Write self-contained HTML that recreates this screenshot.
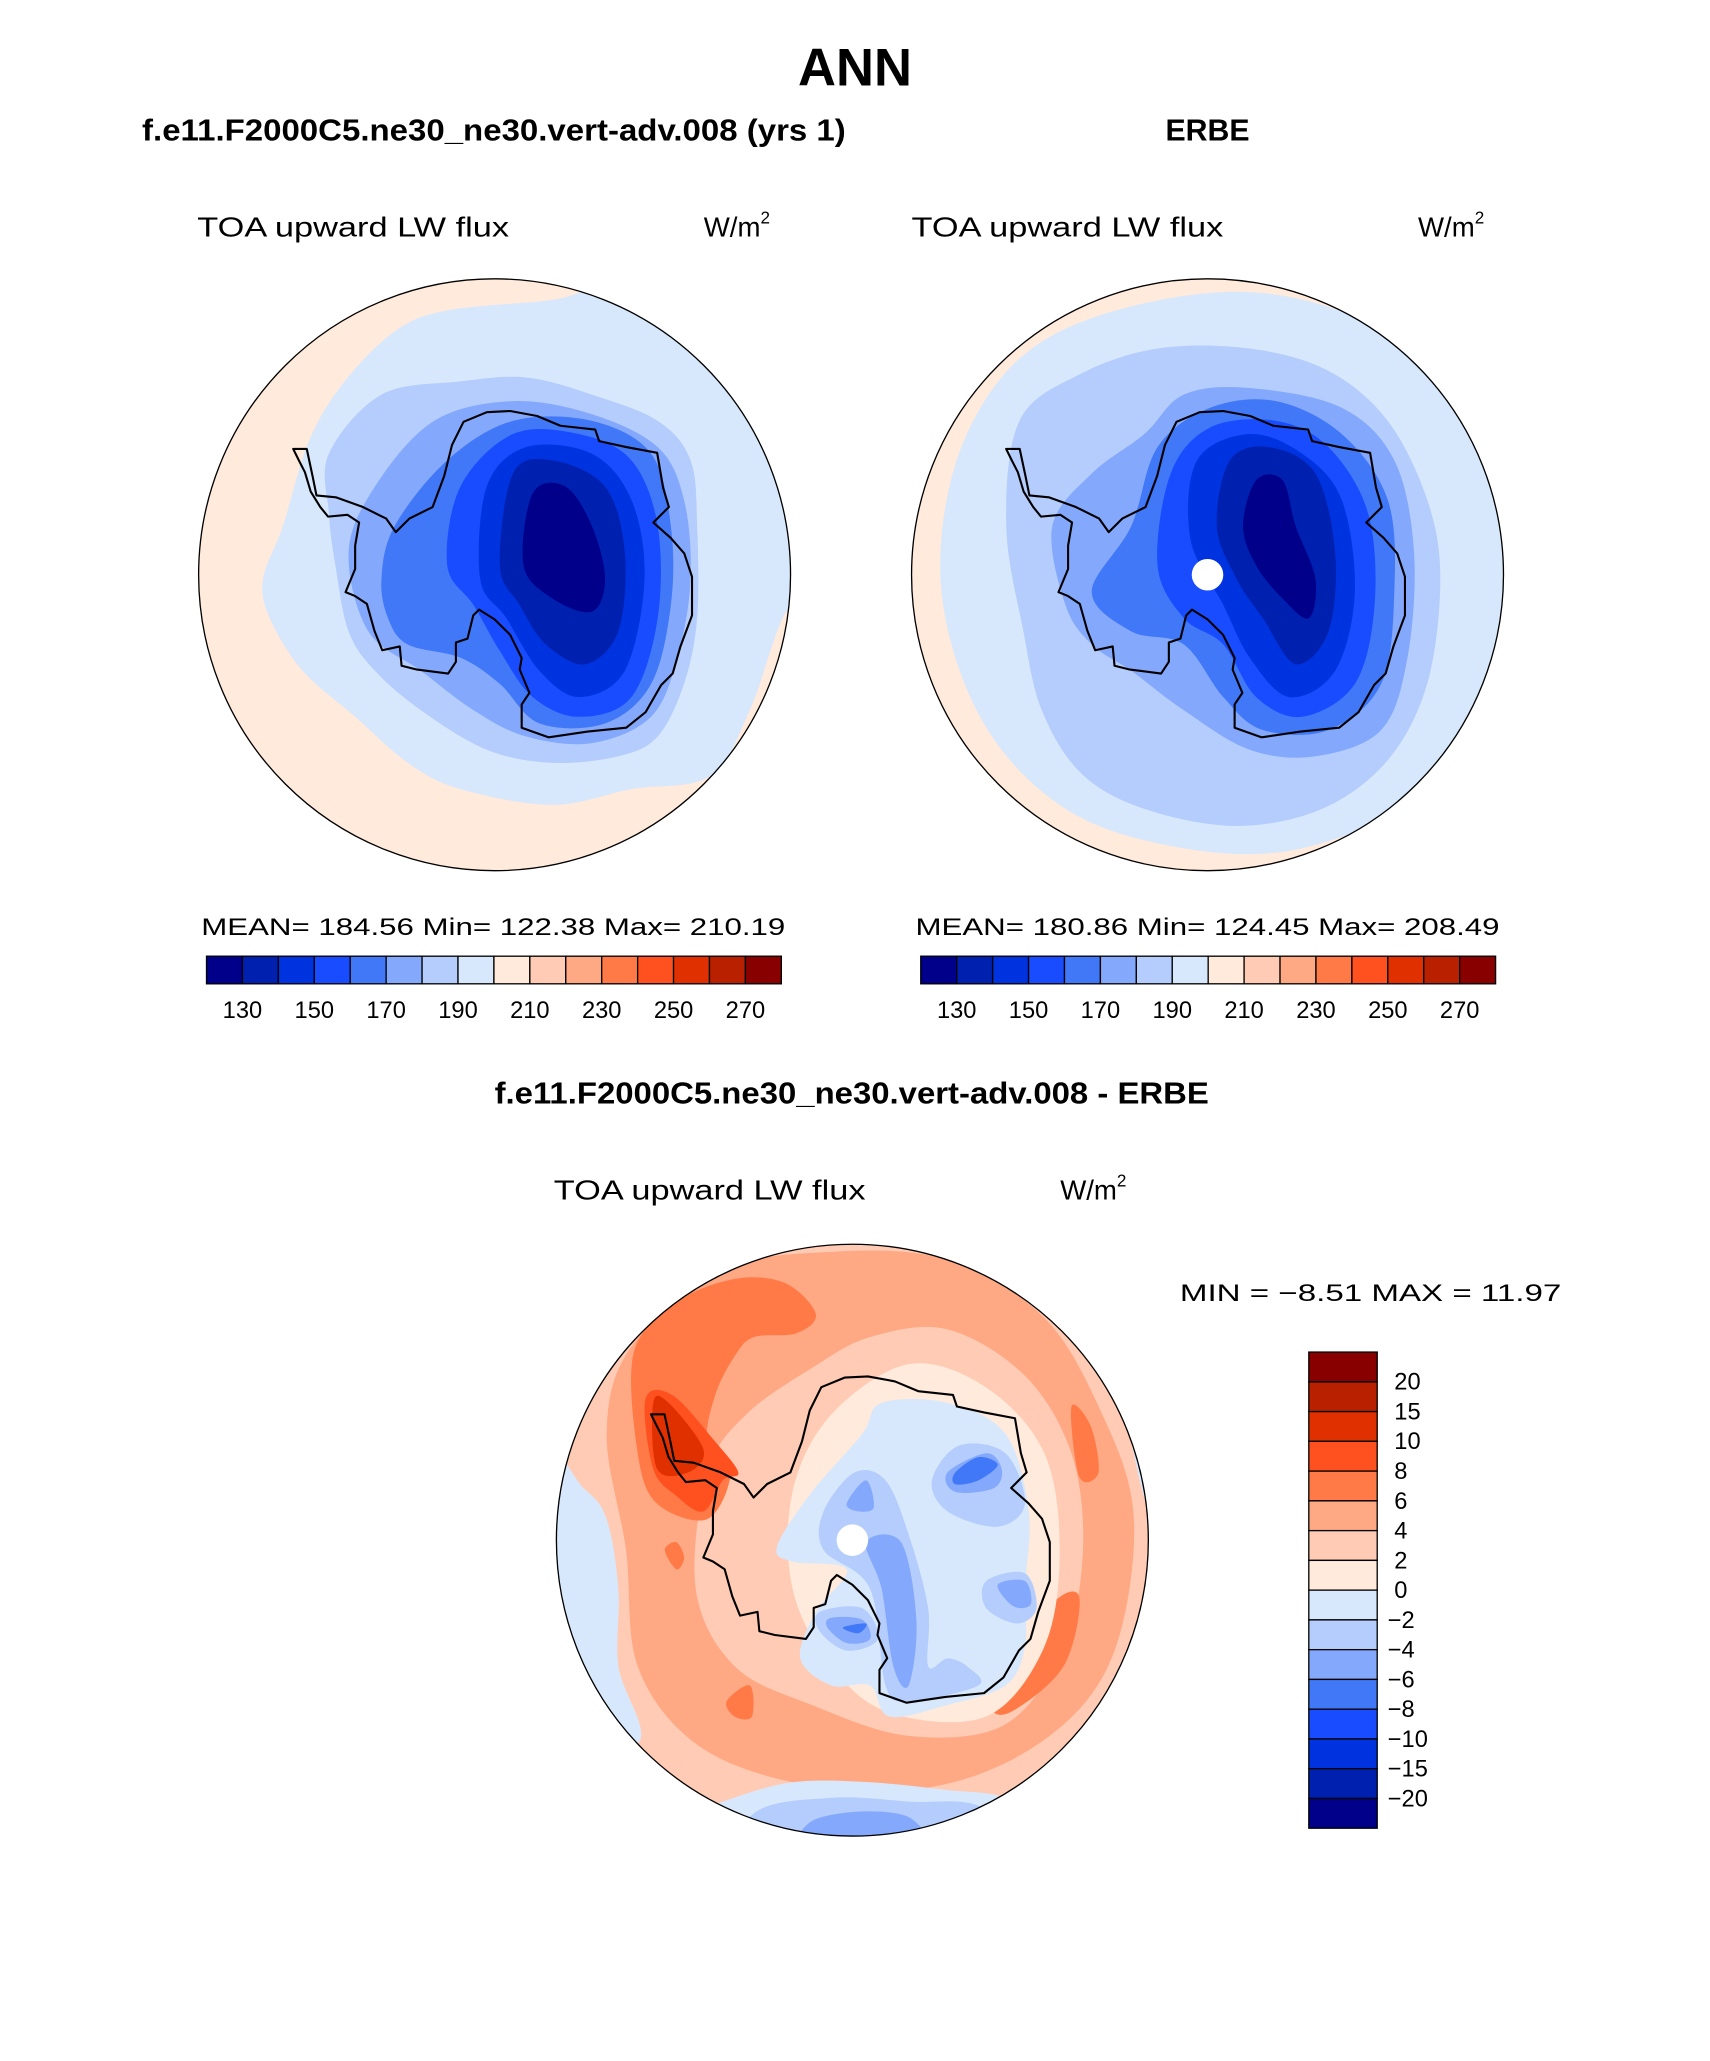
<!DOCTYPE html>
<html><head><meta charset="utf-8"><style>
html,body{margin:0;padding:0;background:#fff;}
svg{display:block;}
text{font-family:"Liberation Sans",sans-serif;fill:#000;}
</style></head><body>
<svg id="fig" width="1710" height="2061" viewBox="0 0 1300 1567" preserveAspectRatio="none" xmlns="http://www.w3.org/2000/svg">
<rect width="1300" height="1567" fill="#fff"/>
<defs>
<clipPath id="c1"><circle cx="376" cy="437" r="225"/></clipPath>
<clipPath id="c2"><circle cx="918" cy="437" r="225"/></clipPath>
<clipPath id="c3"><circle cx="648" cy="1171" r="225"/></clipPath>
</defs>
<text x="650" y="65" font-size="40" font-weight="bold" text-anchor="middle">ANN</text>
<text x="108" y="107" font-size="23" font-weight="bold" textLength="535" lengthAdjust="spacingAndGlyphs">f.e11.F2000C5.ne30_ne30.vert-adv.008 (yrs 1)</text>
<text x="918" y="107" font-size="23" font-weight="bold" text-anchor="middle">ERBE</text>
<text x="376" y="839" font-size="23" font-weight="bold" textLength="543" lengthAdjust="spacingAndGlyphs">f.e11.F2000C5.ne30_ne30.vert-adv.008 - ERBE</text>

<text x="150" y="180" font-size="21" textLength="237" lengthAdjust="spacingAndGlyphs">TOA upward LW flux</text>
<text x="535" y="180" font-size="21">W/m<tspan font-size="13" dy="-10">2</tspan></text>
<text x="693" y="180" font-size="21" textLength="237" lengthAdjust="spacingAndGlyphs">TOA upward LW flux</text>
<text x="1078" y="180" font-size="21">W/m<tspan font-size="13" dy="-10">2</tspan></text>
<text x="421" y="912" font-size="21" textLength="237" lengthAdjust="spacingAndGlyphs">TOA upward LW flux</text>
<text x="806" y="912" font-size="21">W/m<tspan font-size="13" dy="-10">2</tspan></text>

<text x="153" y="711" font-size="18" textLength="444" lengthAdjust="spacingAndGlyphs">MEAN=  184.56   Min=  122.38   Max=  210.19</text>
<text x="696" y="711" font-size="18" textLength="444" lengthAdjust="spacingAndGlyphs">MEAN=  180.86   Min=  124.45   Max=  208.49</text>
<text x="897" y="989" font-size="18" textLength="290" lengthAdjust="spacingAndGlyphs">MIN  =   −8.51  MAX  =    11.97</text>

<g id="map1" clip-path="url(#c1)"></g>
<g id="map2" clip-path="url(#c2)"></g>
<g id="map3" clip-path="url(#c3)"></g>
<circle cx="376" cy="437" r="225" fill="none" stroke="#000" stroke-width="1"/>
<circle cx="918" cy="437" r="225" fill="none" stroke="#000" stroke-width="1"/>
<circle cx="648" cy="1171" r="225" fill="none" stroke="#000" stroke-width="1"/>
<g id="cb1"></g>
<g id="cb2"></g>
<g id="cb3"></g>
</svg>
<script>
const absColors=["#00008b","#0021b0","#0033e0","#1a4cff","#4078f8","#84a8fc","#b4cdfc","#d8e8fc","#ffeadb","#ffcbb4","#ffa884","#ff7a46","#ff5020","#e03000","#b82000","#880000"];
const absTicks=["130","150","170","190","210","230","250","270"];
const diffTicks=["20","15","10","8","6","4","2","0","−2","−4","−6","−8","−10","−15","−20"];
const NS="http://www.w3.org/2000/svg";
function mk(tag,attrs,parent){const e=document.createElementNS(NS,tag);for(const k in attrs)e.setAttribute(k,attrs[k]);parent.appendChild(e);return e;}
function smooth(pts){let d="";const n=pts.length;for(let i=0;i<n;i++){const p0=pts[(i-1+n)%n],p1=pts[i],p2=pts[(i+1)%n],p3=pts[(i+2)%n];if(i===0)d+="M"+p1[0]+","+p1[1];const c1=[p1[0]+(p2[0]-p0[0])/6,p1[1]+(p2[1]-p0[1])/6],c2=[p2[0]-(p3[0]-p1[0])/6,p2[1]-(p3[1]-p1[1])/6];d+="C"+c1[0].toFixed(1)+","+c1[1].toFixed(1)+" "+c2[0].toFixed(1)+","+c2[1].toFixed(1)+" "+p2[0]+","+p2[1];}return d+"Z";}
function blob(g,pts,fill,name){const p=mk("path",{d:smooth(pts),fill:fill},g);}
function hbar(id,x0){const g=document.getElementById(id);const w=437/16;
absColors.forEach((c,i)=>{const r=mk("rect",{x:x0+i*w,y:727,width:w,height:21,fill:c,stroke:"#000","stroke-width":1},g);});
absTicks.forEach((t,i)=>{const tx=mk("text",{x:x0+(2*i+1)*w,y:774,"font-size":18,"text-anchor":"middle"},g);tx.textContent=t;});}
hbar("cb1",157);hbar("cb2",700);
(function(){const g=document.getElementById("cb3");const h=362/16;
absColors.slice().reverse().forEach((c,i)=>{const r=mk("rect",{x:995,y:1028+i*h,width:52,height:h,fill:c,stroke:"#000","stroke-width":1},g);});
diffTicks.forEach((t,i)=>{const tx=mk("text",{x:t.startsWith("−")?1055:1060,y:1028+(i+1)*h+6,"font-size":18},g);tx.textContent=t;});})();
const C=absColors;
(function(){const g=document.getElementById("map1");
mk("rect",{x:140,y:200,width:480,height:480,fill:C[8]},g);
blob(g,[[470,218],[560,240],[620,300],[625,420],[595,470],[570,540],[540,590],[480,600],[420,612],[350,600],[310,580],[270,545],[230,510],[205,470],[200,440],[215,400],[235,335],[262,290],[300,252],[340,236],[420,228]],C[7],"light-blue-region");
blob(g,[[250,345],[290,300],[350,290],[400,287],[450,300],[500,320],[525,350],[530,400],[530,470],[520,520],[500,560],[470,575],[420,580],[370,570],[320,540],[285,510],[265,480],[255,430],[250,390]],C[6],"level-190");
blob(g,[[265,420],[285,370],[330,320],[390,305],[450,315],[500,340],[520,380],[525,440],[515,500],[495,545],[450,565],[400,560],[360,540],[320,510],[280,480]],C[5],"level-180");
blob(g,[[290,440],[300,400],[340,350],[390,320],[450,320],[495,345],[510,400],[510,460],[495,520],[460,550],[410,550],[380,520],[350,500],[310,490],[295,470]],C[4],"level-170");
blob(g,[[340,430],[350,370],[390,330],[440,330],[480,350],[500,400],[500,470],[480,530],[440,545],[405,530],[380,495],[360,460]],C[3],"level-160");
blob(g,[[365,440],[370,370],[400,340],[450,345],[480,380],[490,440],[475,510],[440,530],[410,510],[385,470]],C[2],"level-150");
blob(g,[[380,430],[390,360],[420,350],[460,370],[475,420],[470,480],[445,505],[415,490],[395,460]],C[1],"level-140");
blob(g,[[398,430],[405,375],[430,370],[450,400],[460,440],[450,465],[420,455]],C[0],"level-130");
})();
(function(){const g=document.getElementById("map2");
mk("rect",{x:680,y:200,width:480,height:480,fill:C[8]},g);
blob(g,[[930,222],[1040,245],[1120,310],[1150,420],[1135,530],[1080,605],[990,645],[900,645],[810,615],[745,545],[715,440],[735,330],[800,255]],C[7],"light-blue-region");
blob(g,[[775,320],[820,285],[880,265],[950,265],[1010,282],[1055,320],[1085,380],[1095,440],[1085,520],[1055,578],[1005,615],[940,628],[870,615],[822,588],[792,540],[778,480],[765,400]],C[6],"level-190");
blob(g,[[800,400],[830,360],[870,330],[900,300],[950,295],[1020,310],[1060,350],[1075,420],[1070,500],[1050,555],[1000,575],[950,570],[900,540],[860,510],[830,490],[810,460]],C[5],"level-180");
blob(g,[[830,450],[860,400],[880,340],[920,310],[970,305],[1020,330],[1055,380],[1060,450],[1050,520],[1010,555],[960,555],[930,530],[900,490],[860,480]],C[4],"level-170");
blob(g,[[880,430],[890,360],[920,325],[970,320],[1010,340],[1040,390],[1045,460],[1030,520],[990,545],[955,530],[930,490],[900,470]],C[3],"level-160");
blob(g,[[905,410],[910,350],[950,330],[990,345],[1020,380],[1030,450],[1015,510],[980,530],[950,500],[930,460]],C[2],"level-150");
blob(g,[[925,400],[935,350],[965,340],[1000,360],[1015,420],[1010,480],[985,505],[960,470],[940,440]],C[1],"level-140");
blob(g,[[945,400],[955,365],[975,365],[985,400],[1000,440],[995,470],[975,455],[955,430]],C[0],"level-130");
})();
function Z(pts){return pts.map(p=>[+(425.9+p[0]/3.397).toFixed(1),+(943+p[1]/3.397).toFixed(1)]);}
(function(){const g=document.getElementById("map3");
mk("rect",{x:410,y:930,width:480,height:480,fill:C[9]},g);
blob(g,Z([[-60,560],[60,640],[120,720],[150,900],[150,1100],[200,1300],[-60,1300]]),C[7],"neg-region-west");
blob(g,Z([[1420,250],[1600,300],[1600,800],[1520,700],[1460,450]]),C[7],"neg-region-east");
blob(g,Z([[180,280],[400,80],[700,30],[1000,50],[1250,200],[1400,450],[1480,700],[1450,1000],[1350,1200],[1150,1350],[900,1420],[600,1400],[350,1300],[200,1100],[170,800],[120,500]]),C[10],"level-4-6");
blob(g,Z([[250,1520],[420,1450],[600,1400],[800,1400],[1000,1420],[1150,1440],[1280,1520],[1300,1700],[250,1700]]),C[7],"neg-region-south");
blob(g,Z([[440,1650],[500,1480],[700,1440],[900,1450],[1100,1470],[1220,1650]]),C[6],"level-m2-m4-south");
blob(g,Z([[620,1650],[650,1500],[900,1490],[950,1650]]),C[5],"level-m4-m6-south");
blob(g,Z([[350,900],[380,600],[480,450],[650,330],[800,250],[1000,230],[1200,350],[1320,550],[1350,800],[1300,1050],[1150,1250],[900,1280],[650,1200],[450,1100]]),C[9],"level-2-4");
blob(g,Z([[190,290],[300,160],[450,100],[580,110],[660,190],[610,240],[500,250],[450,300],[400,400],[380,520],[440,600],[380,720],[250,680],[200,550]]),C[11],"level-6-8-nw");
blob(g,Z([[220,410],[290,400],[400,520],[460,600],[420,620],[370,700],[300,660],[240,590]]),C[12],"level-8-10");
blob(g,Z([[240,420],[280,420],[370,540],[330,600],[250,590]]),C[13],"level-10-15");
blob(g,Z([[1320,430],[1370,480],[1390,600],[1340,610]]),C[11],"level-6-8-e");
blob(g,Z([[1120,1180],[1260,950],[1340,920],[1300,1100],[1160,1220]]),C[11],"level-6-8-se");
blob(g,Z([[430,1190],[490,1150],[495,1230],[450,1230]]),C[11],"level-6-8-s");
blob(g,Z([[270,800],[300,780],[320,820],[300,850]]),C[11],"level-6-8-w");
blob(g,Z([[600,650],[700,450],[900,320],[1100,380],[1250,550],[1290,800],[1250,1050],[1100,1230],[850,1220],[700,1100],[600,900]]),C[8],"level-0-2");
blob(g,Z([[560,790],[650,650],[780,500],[830,420],[1000,420],[1150,500],[1210,700],[1200,900],[1200,1050],[1150,1150],[1000,1200],[850,1230],[800,1150],[700,1150],[620,1080],[660,960],[740,850],[600,830]]),C[7],"level-0-m2");
blob(g,Z([[680,700],[760,600],[840,620],[900,760],[950,950],[950,1100],[1000,1080],[1050,1100],[1080,1150],[900,1190],[840,1150],[800,900],[680,800]]),C[6],"level-m2-m4-a");
blob(g,Z([[960,620],[1030,530],[1150,550],[1200,680],[1130,740],[1000,700]]),C[6],"level-m2-m4-b");
blob(g,Z([[1100,880],[1200,860],[1230,950],[1180,990],[1100,950]]),C[6],"level-m2-m4-c");
blob(g,Z([[670,960],[780,950],[820,1030],[740,1060],[670,1010]]),C[6],"level-m2-m4-d");
blob(g,Z([[740,680],[790,620],[810,690],[770,700]]),C[5],"level-m4-m6-a");
blob(g,Z([[790,780],[880,780],[920,980],[900,1150],[860,1100],[830,900]]),C[5],"level-m4-m6-b");
blob(g,Z([[1000,600],[1100,550],[1140,590],[1120,640],[1020,650]]),C[5],"level-m4-m6-c");
blob(g,Z([[1130,890],[1200,880],[1215,940],[1170,945]]),C[5],"level-m4-m6-d");
blob(g,Z([[700,975],[780,980],[800,1030],[740,1040],[690,1000]]),C[5],"level-m4-m6-e");
blob(g,Z([[1020,600],[1080,560],[1130,580],[1080,620],[1020,630]]),C[4],"level-m6-m8-a");
blob(g,Z([[730,1000],[790,990],[770,1015]]),C[4],"level-m6-m8-b");
})();
const coast=[[240,450],[275,450],[290,520],[300,570],[350,575],[420,600],[480,630],[505,665],[540,630],[600,600],[630,520],[650,440],[680,380],[740,355],[800,352],[870,365],[930,390],[1020,400],[1030,430],[1100,445],[1180,460],[1195,550],[1210,600],[1170,640],[1215,680],[1250,720],[1270,780],[1270,880],[1240,960],[1220,1030],[1190,1060],[1150,1130],[1100,1170],[1000,1180],[900,1195],[830,1170],[830,1110],[850,1080],[825,1020],[830,990],[800,930],[760,890],[720,865],[705,880],[690,940],[660,950],[660,1000],[640,1030],[560,1020],[520,1010],[515,960],[470,970],[450,920],[430,850],[400,830],[375,820],[400,760],[400,700],[410,640],[380,620],[330,625],[310,600],[285,560],[270,510],[255,480]];
[["map1",376,437],["map2",918,437],["map3",648,1171]].forEach(([id,px,py])=>{const g=document.getElementById(id);
const pts=coast.map(p=>((px+(p[0]-760)/3.397).toFixed(1)+","+(py+(p[1]-775)/3.397).toFixed(1))).join(" ");
const pl=mk("polygon",{points:pts,fill:"none",stroke:"#000","stroke-width":1.6,"stroke-linejoin":"round"},g);

if(id!=="map1"){const d=mk("circle",{cx:px,cy:py,r:12,fill:"#fff"},g);}});
</script>
</body></html>
